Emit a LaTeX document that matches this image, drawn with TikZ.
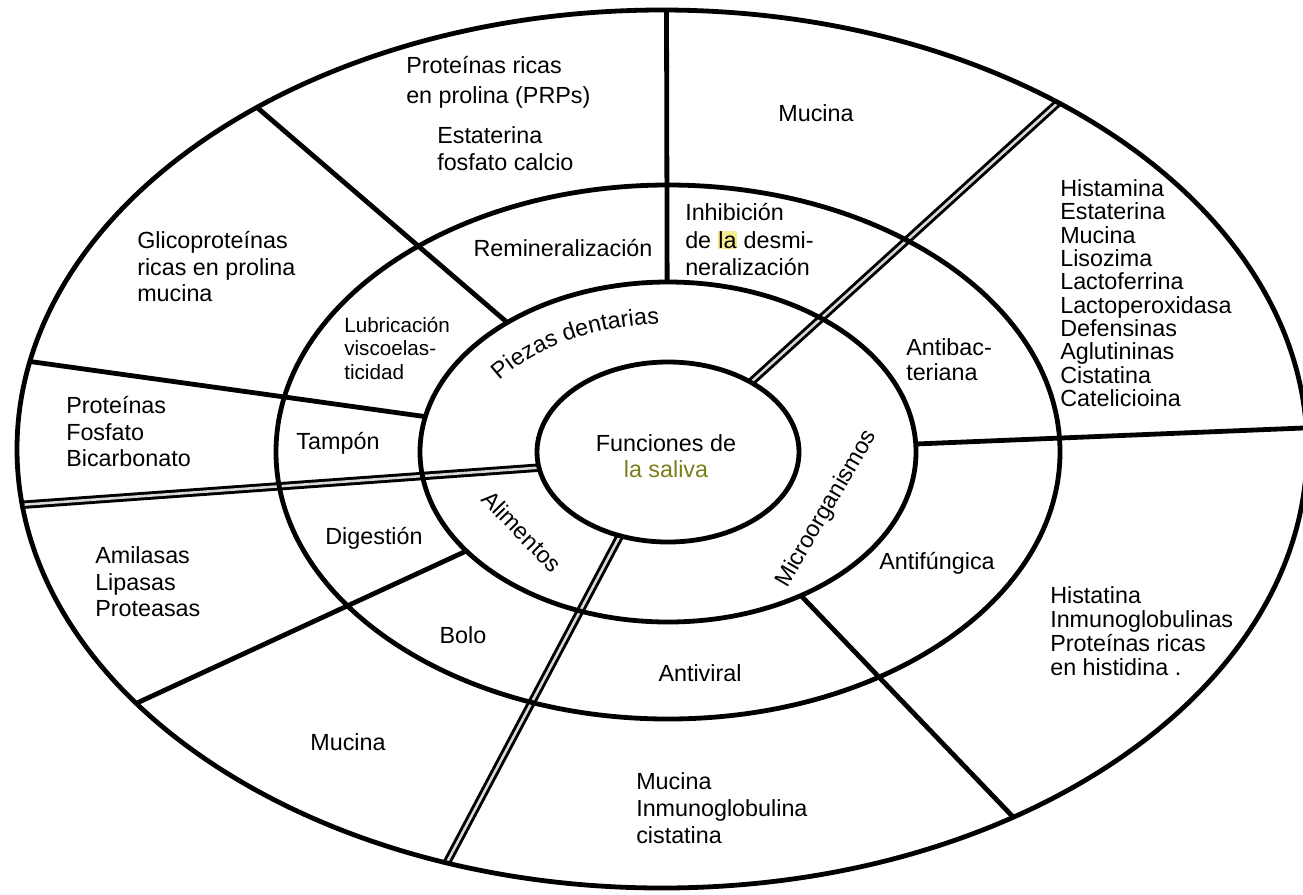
\documentclass[tikz,border=0pt]{standalone}
\usepackage{fontspec}
\setmainfont{Liberation Sans}
\usetikzlibrary{calc,decorations.text}
\definecolor{hlyellow}{RGB}{245,238,140}
\definecolor{olivetxt}{RGB}{125,125,30}
\newcommand\pzfont{\fontsize{17.5}{20}\selectfont}
\newcommand\fsz[1]{\fontsize{17.5}{#1}\selectfont}
\newcommand\hlite[1]{{\setlength{\fboxsep}{0.5pt}\colorbox{hlyellow}{#1}}}
\begin{document}
\begin{tikzpicture}[x=0.75pt, y=-0.75pt,
  ringline/.style={line width=3.6pt},
  sepline/.style={line width=3.6pt},
  dblline/.style={line width=2.2pt, double=gray!30, double distance=1.9pt},
  lbl/.style={inner sep=0pt, font=\fsz{20}},
  lst/.style={inner sep=0pt, align=left, anchor=west},
  arctext/.style={decorate, decoration={text along path, text align=center, text={|\pzfont|#1}}}
]
\useasboundingbox (0,0) rectangle (1303,894);
\fill[white] (0,0) rectangle (1303,894);

\coordinate (C) at (668,452);
\coordinate (O) at (662,449);

% single separators (inner ring to outer ellipse)
\coordinate (s1a) at ($(C)+(-90.2:248 and 170)$);
\coordinate (s1b) at ($(O)+(-89.6:645 and 439)$);
\coordinate (s2a) at ($(C)+(-130.4:248 and 170)$);
\coordinate (s2b) at ($(O)+(-128.9:645 and 439)$);
\coordinate (s3a) at ($(C)+(-168:248 and 170)$);
\coordinate (s3b) at ($(O)+(-168.5:645 and 439)$);
\coordinate (s5a) at ($(C)+(144.4:248 and 170)$);
\coordinate (s5b) at ($(O)+(144.6:645 and 439)$);
\coordinate (s7a) at ($(C)+(57.6:248 and 170)$);
\coordinate (s7b) at ($(O)+(57:645 and 439)$);
\coordinate (s8a) at ($(C)+(-2.7:248 and 170)$);
\coordinate (s8b) at ($(O)+(-2.76:645 and 439)$);
% double separators (centre ellipse to outer ellipse)
\coordinate (d1a) at ($(C)+(170:131 and 90)$);
\coordinate (d1b) at ($(O)+(172.7:645 and 439)$);
\coordinate (d2a) at ($(C)+(111.5:131 and 90)$);
\coordinate (d2b) at ($(O)+(109.5:645 and 439)$);
\coordinate (d3a) at ($(C)+(-50.8:131 and 90)$);
\coordinate (d3b) at ($(O)+(-52.1:645 and 439)$);

\foreach \s in {1,2,3,5,7,8} \draw[sepline] (s\s a) -- (s\s b);
\foreach \d in {1,2,3} \draw[dblline] (d\d a) -- (d\d b);

% rings
\draw[ringline] (C) ellipse [x radius=131, y radius=90];
\draw[ringline] (C) ellipse [x radius=248, y radius=170];
\draw[ringline] (C) ellipse [x radius=392, y radius=267];
\draw[ringline] (O) ellipse [x radius=645, y radius=439];

% centre
\node[lbl, align=center, font=\fsz{20}] (fun) at (666,456) {Funciones de\\\textcolor{olivetxt}{la saliva}};

% inner ring
\path[arctext={Piezas dentarias}] ($(C)+(-152:203 and 128)$) arc[start angle=-152, end angle=-88, x radius=203, y radius=128];
\node[lbl, anchor=base, rotate=59.7] (mic) at (832,512) {Microorganismos};
\node[lbl, anchor=base, rotate=-45.8] (ali) at (516,537) {Alimentos};

% middle ring
\node[lbl] (rem) at (563,248) {Remineralización};
\node[lst, font=\fsz{20.5}] (inh) at (685,239.7) {Inhibición\\de \hlite{la} desmi-\\neralización};
\node[lst, font=\fontsize{15.5}{17.6}\selectfont] (lub) at (344,348.3) {Lubricación\\viscoelas-\\ticidad};
\node[lbl] (tam) at (338,443) {Tampón};
\node[lbl] (dig) at (374,538) {Digestión};
\node[lbl] (bol) at (463,635) {Bolo};
\node[lbl] (avi) at (700,673) {Antiviral};
\node[lbl] (afu) at (937,563) {Antifúngica};
\node[lst, font=\fsz{19}] (abt) at (906,359.5) {Antibac-\\teriana};

% outer ring
\node[lst, font=\fsz{22.5}] (prp) at (406,82) {Proteínas ricas\\en prolina (PRPs)};
\node[lst, font=\fsz{20}] (est) at (437,148.5) {Estaterina\\fosfato calcio};
\node[lbl] (muc1) at (816,113) {Mucina};
\node[lst, font=\fsz{20}] (gli) at (137,266.7) {Glicoproteínas\\ricas en prolina\\mucina};
\node[lst, font=\fsz{20}] (pfb) at (66,431.7) {Proteínas\\Fosfato\\Bicarbonato};
\node[lst, font=\fsz{20}] (ami) at (95,581.7) {Amilasas\\Lipasas\\Proteasas};
\node[lbl] (muc2) at (348,742) {Mucina};
\node[lst, font=\fsz{20}] (muc3) at (636,808.3) {Mucina\\Inmunoglobulina\\cistatina};
\node[lst, font=\fsz{18}] (his) at (1050,631) {Histatina\\Inmunoglobulinas\\Proteínas ricas\\en histidina .};
\node[lst, font=\fsz{17.5}] (ham) at (1060,293) {Histamina\\Estaterina\\Mucina\\Lisozima\\Lactoferrina\\Lactoperoxidasa\\Defensinas\\Aglutininas\\Cistatina\\Catelicioina};
\end{tikzpicture}
\end{document}
